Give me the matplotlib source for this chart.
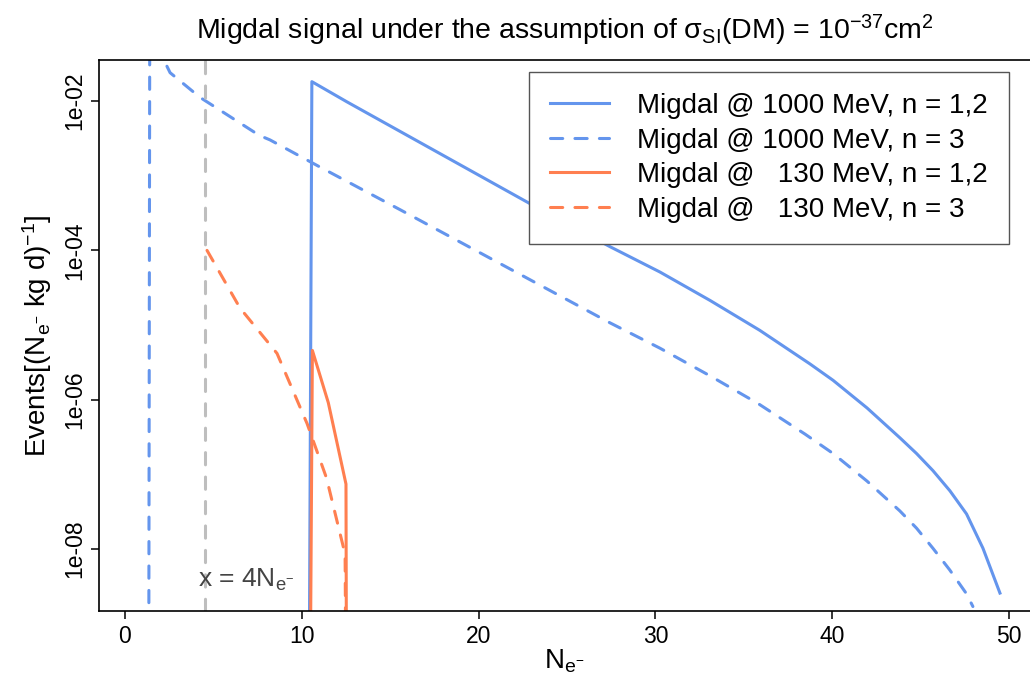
import numpy as np
import matplotlib
matplotlib.use('Agg')
import matplotlib.pyplot as plt

plt.rcParams['font.family'] = ['Liberation Sans', 'DejaVu Sans']
plt.rcParams['mathtext.fontset'] = 'custom'
plt.rcParams['mathtext.rm'] = 'Liberation Sans'
plt.rcParams['mathtext.it'] = 'Liberation Sans:italic'
plt.rcParams['mathtext.sf'] = 'Liberation Sans'

# 读出的数据 (y 以 log10 记)
# Migdal @ 1000 MeV, n = 1,2
x_1000_n12 = [10.38, 10.57, 12.55, 22.8, 27.43, 30.26, 33.09, 35.9, 38.74, 40.05, 41.97,
              43.83, 44.77, 45.7, 46.66, 47.6, 48.53, 49.49]
logy_1000_n12 = [-12, -1.74, -2.01, -3.36, -3.95, -4.29, -4.67, -5.07, -5.52, -5.74, -6.11,
                 -6.51, -6.72, -6.95, -7.22, -7.53, -7.99, -8.59]
# Migdal @ 1000 MeV, n = 3
x_1000_n3 = [1.33, 1.40, 2.55, 4.24, 7.6, 8.2, 11.0, 15.6, 27.43, 30.26, 33.09, 35.8,
             38.46, 40.05, 41.97, 43.83, 44.77, 45.7, 46.65, 47.6, 47.96]
logy_1000_n3 = [-12, -1.06, -1.62, -1.95, -2.46, -2.52, -2.88, -3.46, -4.97, -5.31, -5.68, -6.05,
                -6.46, -6.72, -7.09, -7.49, -7.72, -7.99, -8.28, -8.60, -8.77]
# Migdal @ 130 MeV, n = 1,2
x_130_n12 = [10.42, 10.6, 11.5, 12.5, 12.55]
logy_130_n12 = [-12, -5.34, -6.04, -7.13, -12]
# Migdal @ 130 MeV, n = 3
x_130_n3 = [4.64, 6.5, 8.6, 10.3, 11.4, 12.45, 12.55]
logy_130_n3 = [-4.0, -4.77, -5.38, -6.32, -7.05, -8.07, -12]

threshold_x = 4.5
ytick_vals = [1e-2, 1e-4, 1e-6, 1e-8]
ytick_labels = ['1e-02', '1e-04', '1e-06', '1e-08']
xtick_vals = [0, 10, 20, 30, 40, 50]

blue = '#6495ED'
orange = '#FF7F50'
grey = '#BEBEBE'

fig = plt.figure(figsize=(10.30, 6.75), dpi=100)
ax = fig.add_axes([99 / 1030, 64 / 675, 931 / 1030, 551 / 675])

lw = 2.2
dash = dict(dashes=(4, 4), dash_capstyle='round')
ax.plot(x_1000_n12, 10 ** np.array(logy_1000_n12), color=blue, lw=lw,
        label='Migdal @ 1000 MeV, n = 1,2')
ax.plot(x_1000_n3, 10 ** np.array(logy_1000_n3), color=blue, lw=lw, **dash,
        label='Migdal @ 1000 MeV, n = 3')
ax.plot(x_130_n12, 10 ** np.array(logy_130_n12), color=orange, lw=lw,
        label='Migdal @   130 MeV, n = 1,2')
ax.plot(x_130_n3, 10 ** np.array(logy_130_n3), color=orange, lw=lw, **dash,
        label='Migdal @   130 MeV, n = 3')
ax.axvline(threshold_x, color=grey, lw=lw, **dash)
ax.text(4.13, 10 ** -8.42, r'x = 4N$_{\mathrm{e}^{-}}$', color='#444444',
        fontsize=19, ha='left', va='center')

ax.set_yscale('log')
ax.set_xlim(-1.47, 51.19)
ax.set_ylim(10 ** -8.83, 10 ** -1.45)
ax.set_yticks(ytick_vals)
ax.set_yticklabels(ytick_labels, rotation=90, va='center')
ax.yaxis.set_minor_locator(matplotlib.ticker.NullLocator())
ax.set_xticks(xtick_vals)
ax.tick_params(axis='both', length=6, width=1.1, labelsize=16.5, direction='out')
ax.tick_params(axis='x', pad=4)
ax.tick_params(axis='y', pad=3)
for side in ['left', 'bottom', 'top']:
    ax.spines[side].set_linewidth(1.2)
ax.spines['right'].set_visible(False)

ax.set_title(r'Migdal signal under the assumption of σ$_{\mathrm{SI}}$(DM) = 10$^{-37}$cm$^{2}$',
             fontsize=20.5, pad=15)
ax.set_xlabel(r'N$_{\mathrm{e}^{-}}$', fontsize=20, labelpad=0)
ax.set_ylabel(r'Events[(N$_{\mathrm{e}^{-}}$ kg d)$^{-1}$]', fontsize=20, labelpad=7)

leg = ax.legend(loc='upper right', bbox_to_anchor=(0.977, 0.978), fontsize=20,
                frameon=True, fancybox=False, edgecolor='#555555', framealpha=1,
                handlelength=2.15, handletextpad=1.0, labelspacing=0.31,
                borderpad=0.75, borderaxespad=0)
leg.get_frame().set_linewidth(1.0)

plt.savefig('out.png', dpi=100)
